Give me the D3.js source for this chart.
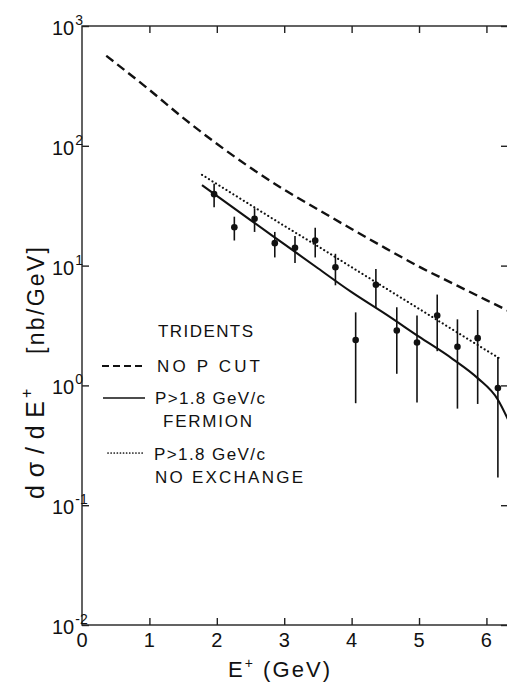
<!DOCTYPE html>
<html>
<head>
<meta charset="utf-8">
<script src="https://cdn.jsdelivr.net/npm/d3@7"></script>
<style>
  html, body { margin: 0; padding: 0; background: #fff; }
  svg { display: block; }
  text { font-family: "Liberation Sans", Arial, sans-serif; fill: #111; }
</style>
</head>
<body>
<div id="chart"></div>
<script>
// Positron energy spectrum of trident events: data points with errors and three model curves.

// Measured points
const energy = [1.96, 2.26, 2.56, 2.86, 3.16, 3.46, 3.76, 4.06, 4.36, 4.67, 4.97, 5.27, 5.57, 5.87, 6.17];
const crossSection = [39.5, 20.9, 24.6, 15.4, 14.1, 16.2, 9.7, 2.39, 6.92, 2.87, 2.28, 3.83, 2.10, 2.48, 0.95];
const crossSectionErr = [8.8, 4.7, 5.5, 3.7, 3.6, 4.5, 2.85, 1.68, 2.45, 1.62, 1.56, 1.9, 1.46, 1.78, 0.78];

// Curve: no momentum cut
const noCutE = [0.36, 1.0, 1.5, 2.0, 2.5, 3.0, 3.5, 4.0, 4.5, 5.0, 5.5, 6.0, 6.32];
const noCut = [564, 293, 171, 104, 65.5, 43, 29.4, 20.2, 14.0, 9.8, 7.1, 5.15, 4.2];

// Curve: P > 1.8 GeV/c, fermion
const fermionE = [1.78, 2.5, 3.0, 3.5, 4.0, 4.5, 5.0, 5.5, 5.87, 6.17, 6.32];
const fermion = [47, 24, 15.1, 9.5, 6.0, 3.95, 2.55, 1.66, 1.15, 0.76, 0.52];

// Curve: P > 1.8 GeV/c, no exchange
const noExchE = [1.78, 2.5, 3.0, 3.5, 4.0, 4.5, 5.0, 5.5, 6.0, 6.18];
const noExch = [57.3, 32.1, 21.5, 14.5, 9.7, 6.5, 4.36, 2.92, 1.96, 1.70];

// Axis ticks
const xTicks = [0, 1, 2, 3, 4, 5, 6];
const yTickExp = [-2, -1, 0, 1, 2, 3];

const W = 507, H = 683;
const margin = { left: 82, top: 26, right: 508, bottom: 625 };
const ink = "#111";

const svg = d3.select("#chart").append("svg")
  .attr("width", W).attr("height", H);
svg.append("rect").attr("width", W).attr("height", H).attr("fill", "#fff");

const x = d3.scaleLinear().domain([0, 6.32]).range([margin.left, margin.right]);
const y = d3.scaleLog().domain([1e-2, 1e3]).range([margin.bottom, margin.top]);

svg.append("clipPath").attr("id", "plot")
  .append("rect")
  .attr("x", margin.left).attr("y", margin.top)
  .attr("width", margin.right - margin.left)
  .attr("height", margin.bottom - margin.top);

// Frame
svg.append("rect")
  .attr("x", margin.left).attr("y", margin.top)
  .attr("width", margin.right - margin.left)
  .attr("height", margin.bottom - margin.top)
  .attr("fill", "none").attr("stroke", "#222").attr("stroke-width", 1.4);

// Axes with inward ticks
const tickLen = 7;
const xb = svg.append("g").attr("transform", `translate(0,${margin.bottom})`)
  .call(d3.axisBottom(x).tickValues(xTicks.slice(1)).tickSize(-tickLen).tickFormat(""));
const xt = svg.append("g").attr("transform", `translate(0,${margin.top})`)
  .call(d3.axisTop(x).tickValues(xTicks.slice(1)).tickSize(-tickLen).tickFormat(""));
const yl = svg.append("g").attr("transform", `translate(${margin.left},0)`)
  .call(d3.axisLeft(y).tickValues(yTickExp.map(e => Math.pow(10, e))).tickSize(-tickLen).tickFormat(""));
const yr = svg.append("g").attr("transform", `translate(${margin.right},0)`)
  .call(d3.axisRight(y).tickValues(yTickExp.map(e => Math.pow(10, e))).tickSize(-tickLen).tickFormat(""));
[xb, xt, yl, yr].forEach(g => {
  g.select(".domain").remove();
  g.selectAll(".tick line").attr("stroke", "#222").attr("stroke-width", 1.4);
});

// X tick labels
svg.append("g").selectAll("text").data(xTicks).join("text")
  .attr("x", d => x(d)).attr("y", 647)
  .attr("text-anchor", "middle")
  .attr("font-size", 20)
  .text(d => d);

// Y tick labels: 10 with superscript exponent
const yLab = svg.append("g").selectAll("text").data(yTickExp).join("text")
  .attr("x", 52).attr("y", d => y(Math.pow(10, d)) + 9)
  .attr("font-size", 20);
yLab.append("tspan").text("10");
yLab.append("tspan").attr("font-size", 14).attr("dy", -10).attr("dx", 1)
  .text(d => d < 0 ? "-" + Math.abs(d) : String(d));

// Axis titles
const xt2 = svg.append("text").attr("x", 228).attr("y", 677).attr("font-size", 22)
  .attr("textLength", 102).attr("lengthAdjust", "spacing");
xt2.append("tspan").text("E");
xt2.append("tspan").attr("font-size", 14).attr("dy", -9).text("+");
xt2.append("tspan").attr("dy", 9).text(" (GeV)");

const yTitle = svg.append("g").attr("transform", "translate(44,0) rotate(-90)");
yTitle.append("text").attr("x", -499).attr("y", 0).attr("font-size", 25)
  .attr("textLength", 98).attr("lengthAdjust", "spacing")
  .text("dσ/dE");
yTitle.append("text").attr("x", -398).attr("y", -12).attr("font-size", 16)
  .text("+");
yTitle.append("text").attr("x", -354).attr("y", 0).attr("font-size", 23)
  .attr("textLength", 107).attr("lengthAdjust", "spacing")
  .text("[nb/GeV]");

// Curves
const line = d3.line().x(d => x(d[0])).y(d => y(d[1])).curve(d3.curveMonotoneX);
const curves = svg.append("g").attr("clip-path", "url(#plot)");
const dashStyle = { w: 2.4, dash: "9,5", cap: "butt" };
const solidStyle = { w: 2.1, dash: null, cap: "butt" };
const dotStyle = { w: 2.1, dash: "0.1,4", cap: "round" };

function drawCurve(xs, ys, st) {
  curves.append("path")
    .attr("d", line(d3.zip(xs, ys)))
    .attr("fill", "none").attr("stroke", ink)
    .attr("stroke-width", st.w)
    .attr("stroke-dasharray", st.dash)
    .attr("stroke-linecap", st.cap);
}
drawCurve(noCutE, noCut, dashStyle);
drawCurve(fermionE, fermion, solidStyle);
drawCurve(noExchE, noExch, dotStyle);

// Data points with error bars
const pts = d3.zip(energy, crossSection, crossSectionErr);
const marks = svg.append("g").attr("clip-path", "url(#plot)");
marks.selectAll("line.err").data(pts).join("line")
  .attr("class", "err")
  .attr("x1", d => x(d[0])).attr("x2", d => x(d[0]))
  .attr("y1", d => y(d[1] + d[2]))
  .attr("y2", d => y(Math.max(d[1] - d[2], 1e-2)))
  .attr("stroke", ink).attr("stroke-width", 1.6);
marks.selectAll("circle").data(pts).join("circle")
  .attr("cx", d => x(d[0])).attr("cy", d => y(d[1]))
  .attr("r", 3.3).attr("fill", ink);

// Legend
const legend = svg.append("g");
legend.append("text").attr("x", 158).attr("y", 337).attr("font-size", 17)
  .attr("textLength", 95).attr("lengthAdjust", "spacing").text("TRIDENTS");

const legendRows = [
  { st: dashStyle, dash: "7,4", x1: 102, x2: 146, ly: 366, labels: [["NO P CUT", 157, 372, 103]] },
  { st: solidStyle, dash: null, x1: 103, x2: 145, ly: 398, labels: [["P>1.8 GeV/c", 155, 404, 110], ["FERMION", 163, 427, 89]] },
  { st: dotStyle, dash: "0.1,3", x1: 108, x2: 143, ly: 453, labels: [["P>1.8 GeV/c", 154, 460, 111], ["NO EXCHANGE", 155, 483, 148]] }
];
legendRows.forEach(r => {
  legend.append("line")
    .attr("x1", r.x1).attr("x2", r.x2).attr("y1", r.ly).attr("y2", r.ly)
    .attr("stroke", ink).attr("stroke-width", r.st.w - 0.4)
    .attr("stroke-dasharray", r.dash)
    .attr("stroke-linecap", r.st.cap);
  r.labels.forEach(([t, lx, ly, len]) => {
    legend.append("text").attr("x", lx).attr("y", ly).attr("font-size", 17)
      .attr("textLength", len).attr("lengthAdjust", "spacing").text(t);
  });
});
</script>
</body>
</html>
